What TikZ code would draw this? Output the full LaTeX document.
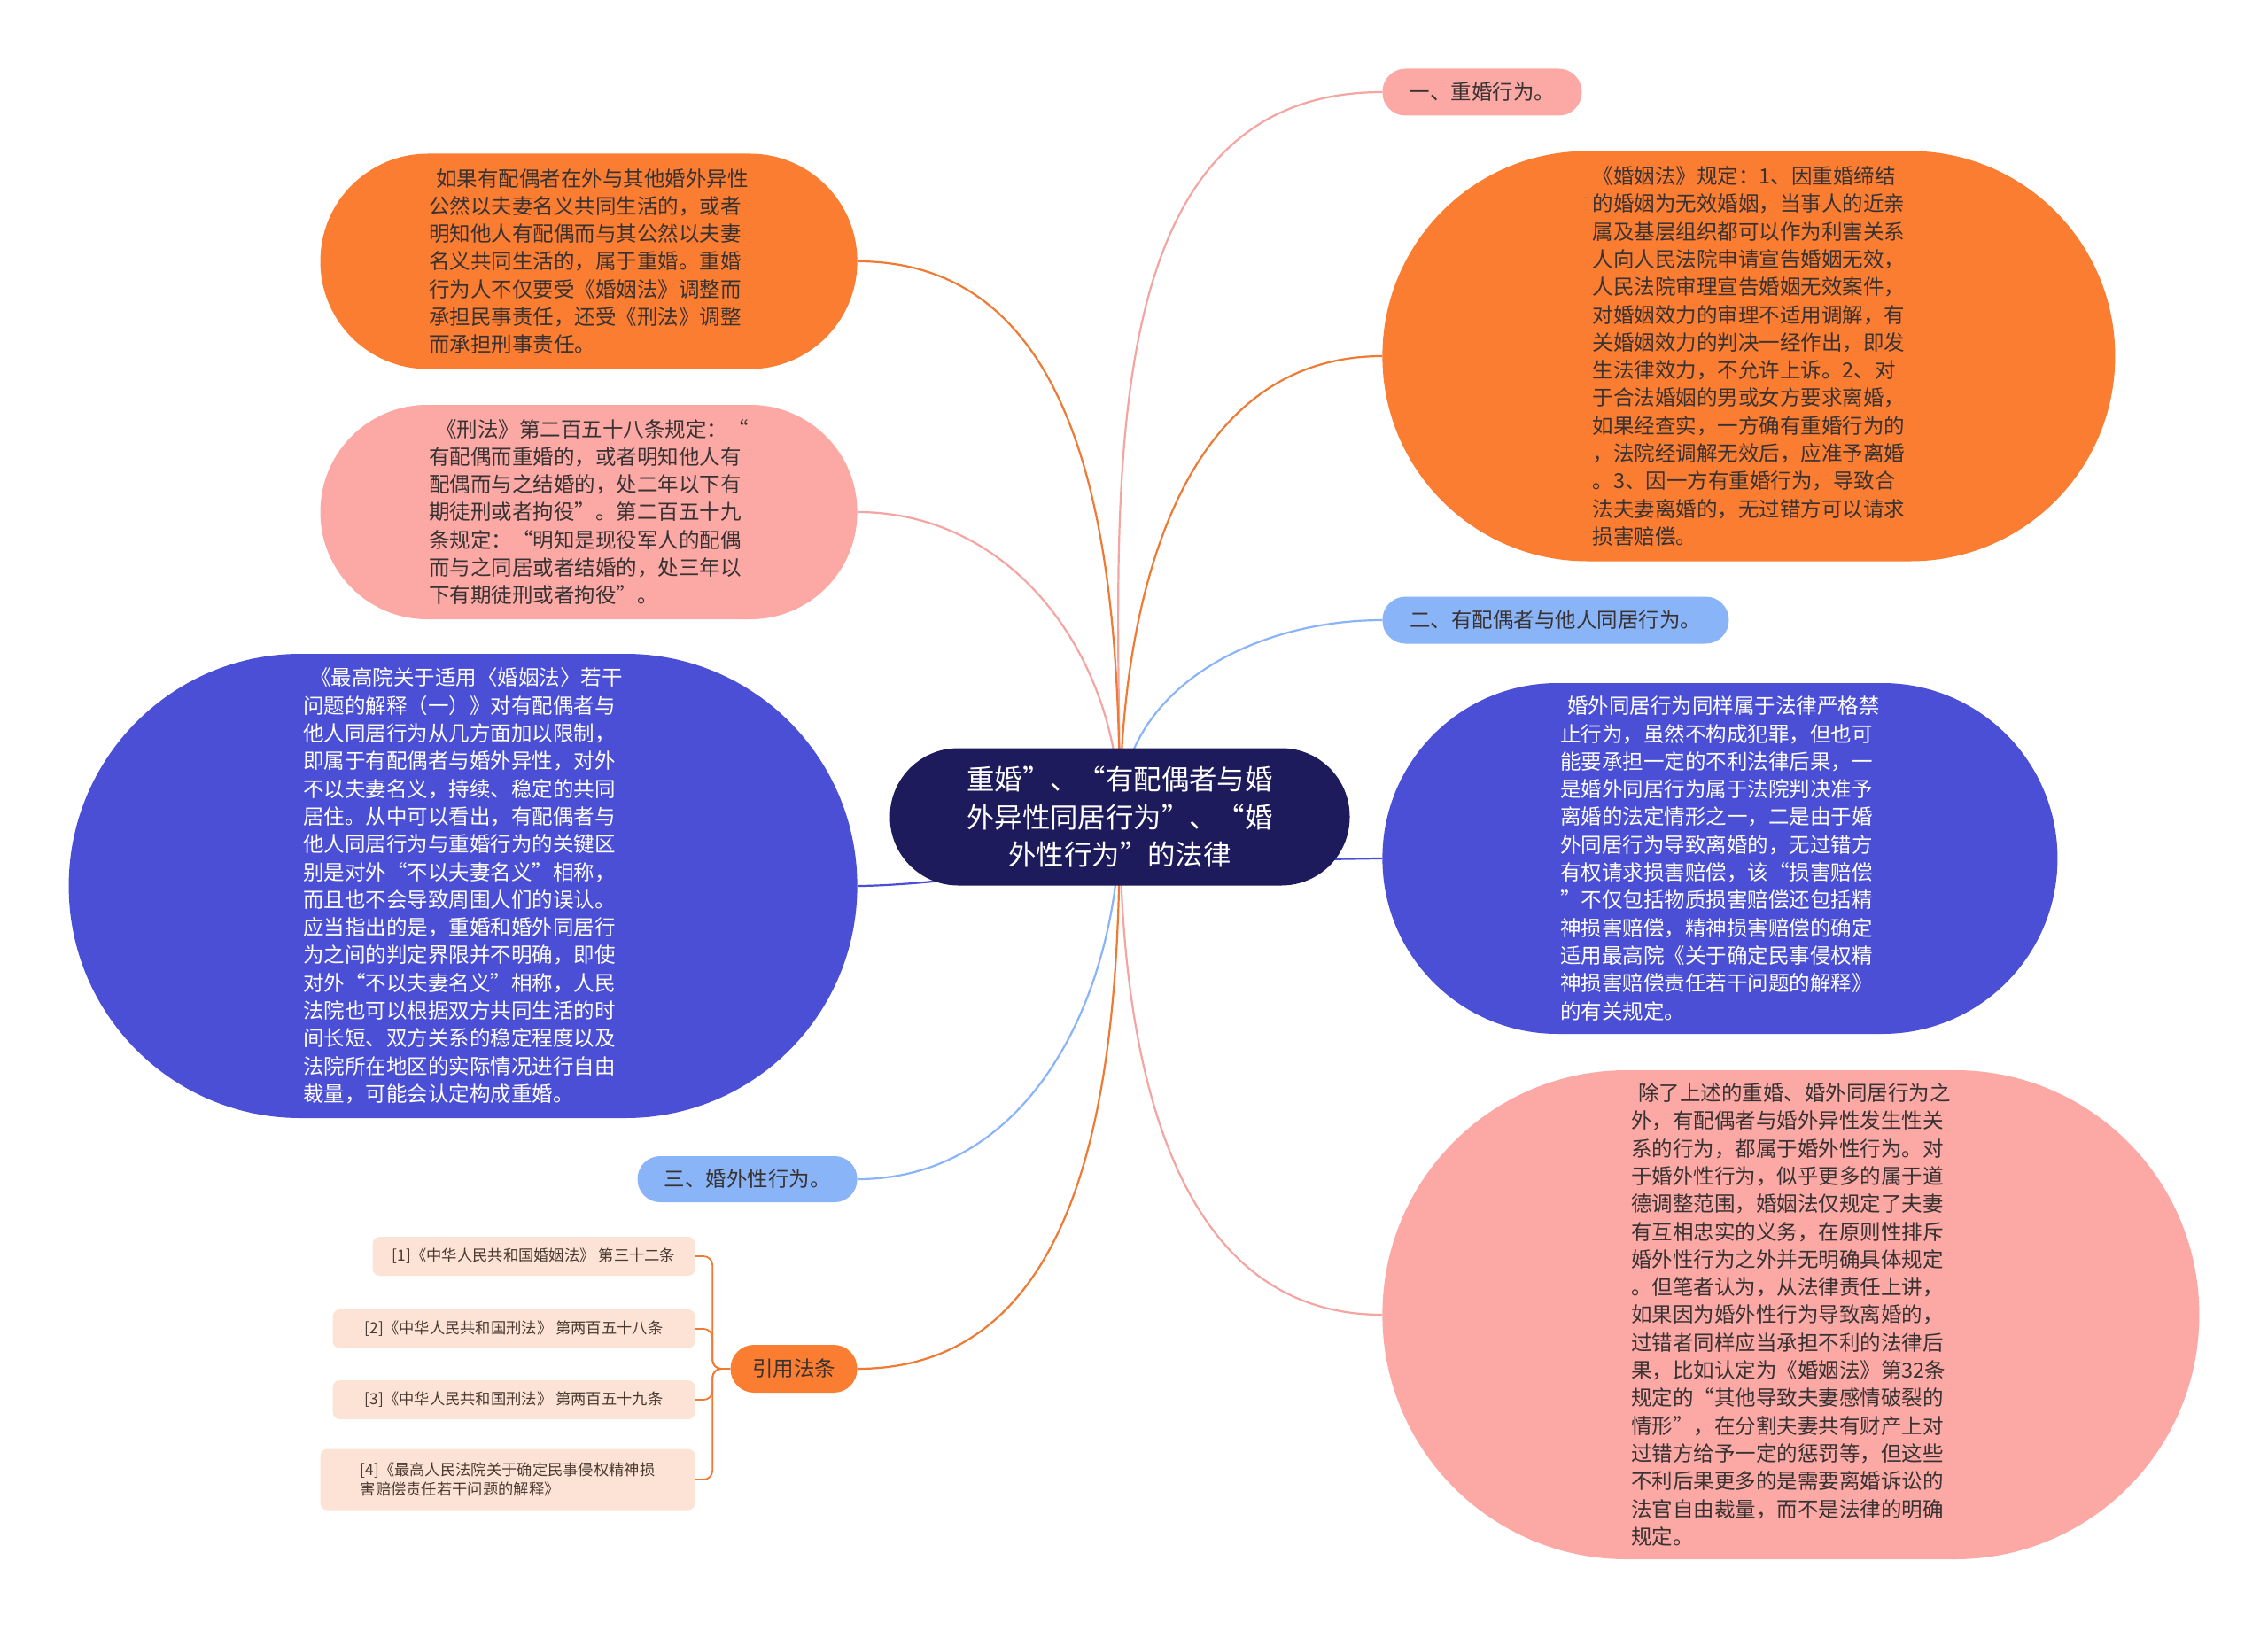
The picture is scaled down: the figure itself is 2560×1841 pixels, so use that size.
\documentclass[tikz,border=0pt]{standalone}
\usepackage{fontspec}
\setmainfont{Noto Sans CJK SC}
\definecolor{navy}{HTML}{1E1B5C}
\definecolor{tangerine}{HTML}{FB7D31}
\definecolor{blush}{HTML}{FCA9A6}
\definecolor{indigo}{HTML}{4A4FD6}
\definecolor{sky}{HTML}{8AB4F8}
\definecolor{peach}{HTML}{FDE3D5}
\definecolor{ink}{HTML}{383232}
\definecolor{refink}{HTML}{4A3A32}
\definecolor{tangerineline}{HTML}{EF7A33}
\definecolor{blushline}{HTML}{F3A5A2}
\pgfdeclarelayer{bg}
\pgfsetlayers{bg,main}
\newcommand{\padsp}{\hspace*{0.35em}}

\begin{document}
\begin{tikzpicture}[x=0.5pt,y=-0.5pt,
    blob/.style 2 args={rectangle, minimum width=#1, minimum height=#2,
        rounded corners=#2/2-0.2pt, inner sep=0pt, align=left},
    body/.style={font=\fontsize{11.75pt}{15.65pt}\selectfont, text=ink},
    light/.style={font=\fontsize{11.75pt}{15.65pt}\selectfont, text=white},
    small/.style={font=\fontsize{8.65pt}{11.2pt}\selectfont, text=refink},
    link/.style={draw=#1, line width=1.1pt}]

% centre
\node[blob={259.5pt}{77.5pt}, fill=navy, text=white, align=center,
      font=\fontsize{15.7pt}{21.2pt}\selectfont] (root) at (1264,922)
      {重婚”、“有配偶者与婚\\外异性同居行为”、“婚\\外性行为”的法律};

% right side
\node[blob={112.5pt}{26.5pt}, fill=blush, body, anchor=west] (bigamy) at (1560,104) {一、重婚行为。};
\node[blob={413.5pt}{231.5pt}, fill=tangerine, body, anchor=west] (marriagelaw) at (1560,402)
  {《婚姻法》规定：1、因重婚缔结\\的婚姻为无效婚姻，当事人的近亲\\属及基层组织都可以作为利害关系\\人向人民法院申请宣告婚姻无效，\\人民法院审理宣告婚姻无效案件，\\对婚姻效力的审理不适用调解，有\\关婚姻效力的判决一经作出，即发\\生法律效力，不允许上诉。2、对\\于合法婚姻的男或女方要求离婚，\\如果经查实，一方确有重婚行为的\\，法院经调解无效后，应准予离婚\\。3、因一方有重婚行为，导致合\\法夫妻离婚的，无过错方可以请求\\损害赔偿。};
\node[blob={195.5pt}{26.5pt}, fill=sky, body, anchor=west] (cohabit) at (1560,700) {二、有配偶者与他人同居行为。};
\node[blob={381pt}{198pt}, fill=indigo, light, anchor=west] (cohabnote) at (1560,969)
  {\padsp 婚外同居行为同样属于法律严格禁\\止行为，虽然不构成犯罪，但也可\\能要承担一定的不利法律后果，一\\是婚外同居行为属于法院判决准予\\离婚的法定情形之一，二是由于婚\\外同居行为导致离婚的，无过错方\\有权请求损害赔偿，该“损害赔偿\\”不仅包括物质损害赔偿还包括精\\神损害赔偿，精神损害赔偿的确定\\适用最高院《关于确定民事侵权精\\神损害赔偿责任若干问题的解释》\\的有关规定。};
\node[blob={461pt}{276pt}, fill=blush, body, anchor=west] (affairnote) at (1560,1484)
  {\padsp 除了上述的重婚、婚外同居行为之\\外，有配偶者与婚外异性发生性关\\系的行为，都属于婚外性行为。对\\于婚外性行为，似乎更多的属于道\\德调整范围，婚姻法仅规定了夫妻\\有互相忠实的义务，在原则性排斥\\婚外性行为之外并无明确具体规定\\。但笔者认为，从法律责任上讲，\\如果因为婚外性行为导致离婚的，\\过错者同样应当承担不利的法律后\\果，比如认定为《婚姻法》第32条\\规定的“其他导致夫妻感情破裂的\\情形”，在分割夫妻共有财产上对\\过错方给予一定的惩罚等，但这些\\不利后果更多的是需要离婚诉讼的\\法官自由裁量，而不是法律的明确\\规定。};

% left side
\node[blob={303pt}{121.5pt}, fill=tangerine, body, anchor=east] (bigamydef) at (968,295)
  {\padsp 如果有配偶者在外与其他婚外异性\\公然以夫妻名义共同生活的，或者\\明知他人有配偶而与其公然以夫妻\\名义共同生活的，属于重婚。重婚\\行为人不仅要受《婚姻法》调整而\\承担民事责任，还受《刑法》调整\\而承担刑事责任。};
\node[blob={303pt}{121pt}, fill=blush, body, anchor=east] (criminal) at (968,578)
  {\padsp《刑法》第二百五十八条规定：“\\有配偶而重婚的，或者明知他人有\\配偶而与之结婚的，处二年以下有\\期徒刑或者拘役”。第二百五十九\\条规定：“明知是现役军人的配偶\\而与之同居或者结婚的，处三年以\\下有期徒刑或者拘役”。};
\node[blob={445pt}{262pt}, fill=indigo, light, anchor=east] (court) at (968,1000)
  {\padsp《最高院关于适用〈婚姻法〉若干\\问题的解释（一）》对有配偶者与\\他人同居行为从几方面加以限制，\\即属于有配偶者与婚外异性，对外\\不以夫妻名义，持续、稳定的共同\\居住。从中可以看出，有配偶者与\\他人同居行为与重婚行为的关键区\\别是对外“不以夫妻名义”相称，\\而且也不会导致周围人们的误认。\\应当指出的是，重婚和婚外同居行\\为之间的判定界限并不明确，即使\\对外“不以夫妻名义”相称，人民\\法院也可以根据双方共同生活的时\\间长短、双方关系的稳定程度以及\\法院所在地区的实际情况进行自由\\裁量，可能会认定构成重婚。};
\node[blob={124pt}{26pt}, fill=sky, body, anchor=east] (affair) at (968,1331) {三、婚外性行为。};
\node[blob={71.5pt}{27pt}, fill=tangerine, body, anchor=east] (cite) at (968,1545) {引用法条};

% cited articles
\node[small, fill=peach, rounded corners=4pt, minimum width=182pt, minimum height=22pt, inner sep=0pt, anchor=east] (ref1) at (785,1418) {[1]《中华人民共和国婚姻法》 第三十二条};
\node[small, fill=peach, rounded corners=4pt, minimum width=204.5pt, minimum height=22pt, inner sep=0pt, anchor=east] (ref2) at (785,1500) {[2]《中华人民共和国刑法》 第两百五十八条};
\node[small, fill=peach, rounded corners=4pt, minimum width=204.5pt, minimum height=22pt, inner sep=0pt, anchor=east] (ref3) at (785,1580) {[3]《中华人民共和国刑法》 第两百五十九条};
\node[small, fill=peach, rounded corners=4pt, minimum width=211.5pt, minimum height=34.5pt, inner sep=0pt, align=left, anchor=east] (ref4) at (785,1670) {[4]《最高人民法院关于确定民事侵权精神损\\害赔偿责任若干问题的解释》};

\begin{pgfonlayer}{bg}
\fill[white] (0,0) rectangle (2560,1841);
\draw[link=blushline] (root.center) to[out=90,in=180] (bigamy.west);
\draw[link=tangerineline] (root.center) to[out=90,in=180] (marriagelaw.west);
\draw[link=sky] (root.center) to[out=90,in=180] (cohabit.west);
\draw[link=indigo] (root.center) to[out=-90,in=180,looseness=0.5] (cohabnote.west);
\draw[link=blushline] (root.center) to[out=-90,in=180] (affairnote.west);
\draw[link=tangerineline] (root.center) to[out=90,in=0] (bigamydef.east);
\draw[link=blushline] (root.center) to[out=90,in=0] (criminal.east);
\draw[link=indigo] (root.center) to[out=-90,in=0,looseness=0.5] (court.east);
\draw[link=sky] (root.center) to[out=-90,in=0] (affair.east);
\draw[link=tangerineline] (root.center) to[out=-90,in=0] (cite.east);
\foreach \r in {ref1,ref2,ref3,ref4}
  \draw[link=tangerineline, line width=0.9pt, rounded corners=5pt] (cite.west) -- ++(-20,0) |- (\r.east);
\end{pgfonlayer}
\end{tikzpicture}
\end{document}
